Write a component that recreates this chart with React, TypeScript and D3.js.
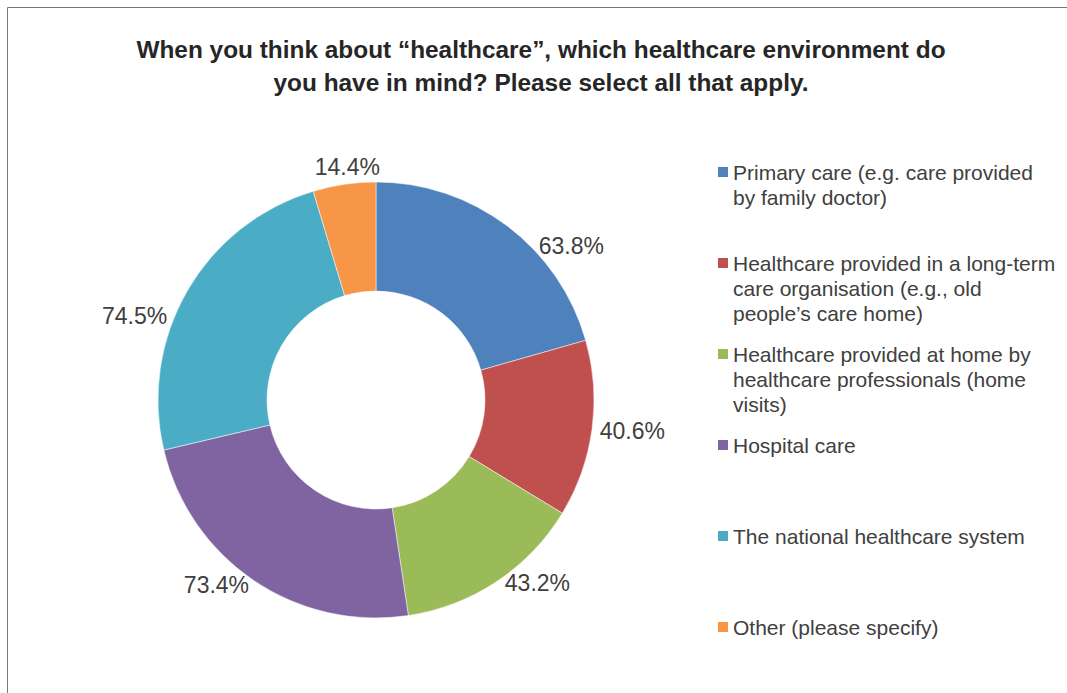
import React from "react";
import * as d3 from "d3";

const TITLE_LINES = [
  "When you think about \u201chealthcare\u201d, which healthcare environment do",
  "you have in mind? Please select all that apply.",
];

// line breaks as shown in the legend of the reference
const CATEGORIES = [
  "Primary care (e.g. care provided\nby family doctor)",
  "Healthcare provided in a long-term\ncare organisation (e.g., old\npeople\u2019s care home)",
  "Healthcare provided at home by\nhealthcare professionals (home\nvisits)",
  "Hospital care",
  "The national healthcare system",
  "Other (please specify)",
];

const VALUES = [63.8, 40.6, 43.2, 73.4, 74.5, 14.4];

const COLORS = ["#4F81BD", "#C0504D", "#9BBB59", "#8064A2", "#4BACC6", "#F79646"];

// small angular nudges (degrees) for label placement, mimicking the "best fit" layout
const LABEL_NUDGE = [12, 0, -5, 4, -9, 2];

const W = 1067;
const H = 693;
const CX = 376;
const CY = 400;
const R_OUT = 218;
const R_IN = 109;
const FONT = "'Liberation Sans', Arial, sans-serif";

export default function App() {
  const pie = d3.pie<number>().sort(null).value((d) => d);
  const arcs = pie(VALUES);
  const arc = d3.arc<d3.PieArcDatum<number>>().innerRadius(R_IN).outerRadius(R_OUT);

  const labelFont = 23;
  const c = document.createElement("canvas").getContext("2d")!;
  c.font = `${labelFont}px ${FONT}`;

  return (
    <svg
      width={W}
      height={H}
      style={{ position: "absolute", left: 0, top: 0, background: "#fff" }}
      fontFamily={FONT}
    >
      <rect x={0} y={0} width={W} height={H} fill="#fff" />
      <line x1={7.5} y1={7.5} x2={W} y2={7.5} stroke="#777" strokeWidth={1} />
      <line x1={7.5} y1={7.5} x2={7.5} y2={H} stroke="#777" strokeWidth={1} />

      {TITLE_LINES.map((t, i) => (
        <text
          key={i}
          x={541}
          y={58 + i * 33}
          textAnchor="middle"
          fontSize={24.4}
          fontWeight="bold"
          fill="#262626"
        >
          {t}
        </text>
      ))}

      <g transform={`translate(${CX},${CY})`}>
        {arcs.map((a, i) => (
          <path key={i} d={arc(a) || ""} fill={COLORS[i]} stroke="#fff" strokeWidth={0.5} />
        ))}
        {arcs.map((a, i) => {
          const label = `${a.data.toFixed(1)}%`;
          const th = (a.startAngle + a.endAngle) / 2 + (LABEL_NUDGE[i] * Math.PI) / 180;
          const w = c.measureText(label).width;
          const h = 17;
          const rr = R_OUT + 8;
          const x = rr * Math.sin(th) + (w / 2) * Math.sin(th);
          const y = -rr * Math.cos(th) - (h / 2) * Math.cos(th);
          return (
            <text
              key={"l" + i}
              x={x}
              y={y}
              textAnchor="middle"
              dominantBaseline="central"
              fontSize={labelFont}
              fill="#404040"
            >
              {label}
            </text>
          );
        })}
      </g>

      {CATEGORIES.map((cat, i) => {
        const y0 = 172 + i * 91;
        return (
          <g key={cat}>
            <rect x={718} y={y0 - 5} width={10} height={10} fill={COLORS[i]} />
            {cat.split("\n").map((ln, j) => (
              <text
                key={j}
                x={733}
                y={y0 + j * 25}
                dominantBaseline="central"
                fontSize={21}
                fill="#404040"
              >
                {ln}
              </text>
            ))}
          </g>
        );
      })}
    </svg>
  );
}
